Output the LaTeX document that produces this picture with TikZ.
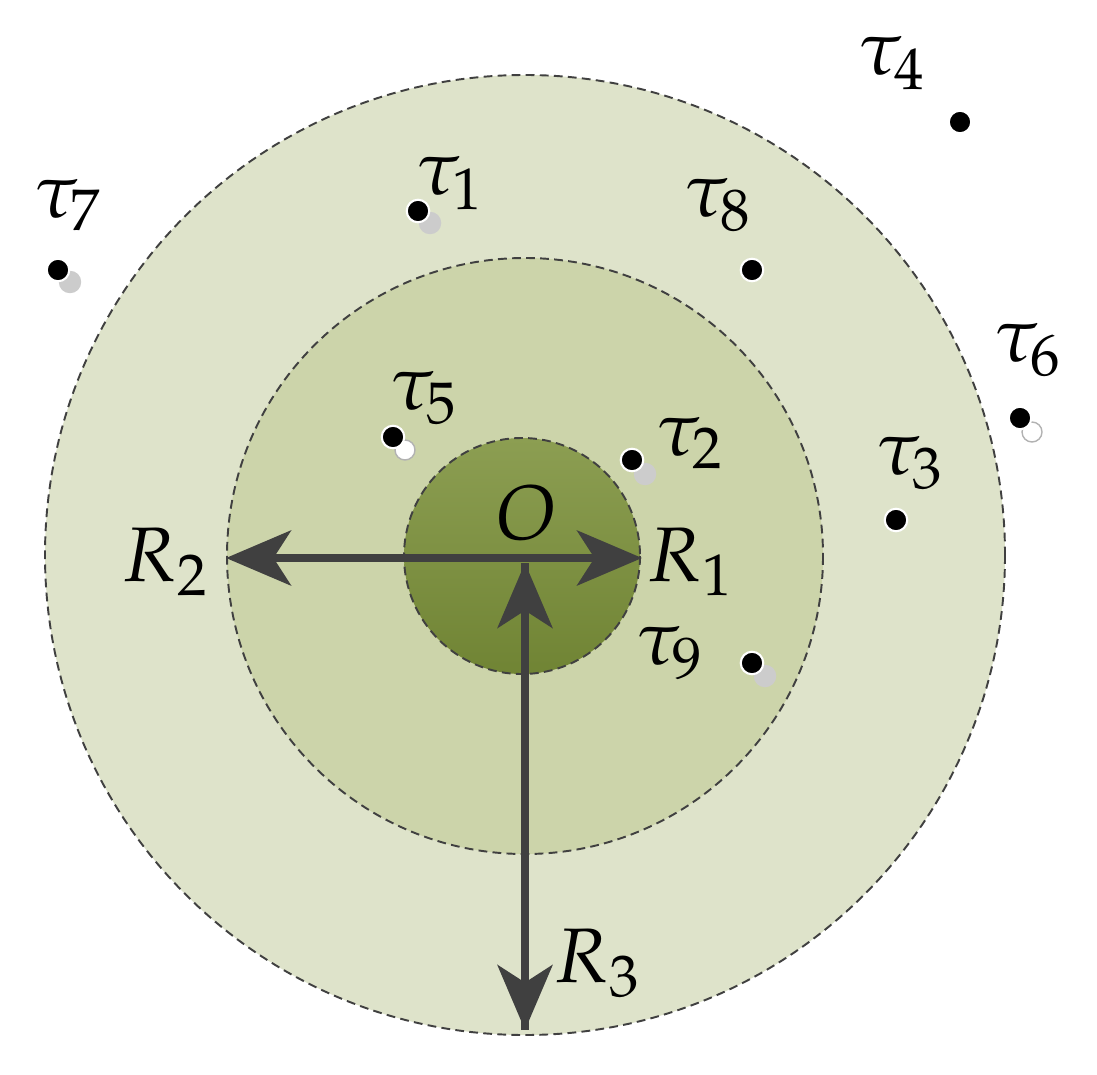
\documentclass[tikz,border=0pt]{standalone}
\usepackage{mathpazo}
\usetikzlibrary{arrows.meta}
\begin{document}
\begin{tikzpicture}[x=0.02cm,y=-0.02cm,
  ring/.style={draw=black!75,dash pattern=on 5pt off 3pt,line width=1.1pt},
  pt/.style={circle,fill=black,draw=white,line width=1.2pt,inner sep=0pt,minimum size=0.45cm},
  sh/.style={circle,fill=black!20,inner sep=0pt,minimum size=0.45cm},
  hsh/.style={circle,draw=black!30,fill=white,line width=0.8pt,inner sep=0pt,minimum size=0.4cm},
  lab/.style={inner sep=0pt,font=\fontsize{44}{50}\selectfont},
  arr/.style={line width=4pt,draw=black!75,-{Stealth[length=1.3cm,width=1.1cm,inset=0.35cm]}}]
\useasboundingbox (0,0) rectangle (1097,1074);
\fill[ring,fill={rgb,255:red,222;green,227;blue,202}] (525,555) circle (480);
\fill[ring,fill={rgb,255:red,204;green,212;blue,170}] (525,556) circle (298);
\shade[top color={rgb,255:red,140;green,158;blue,82},bottom color={rgb,255:red,112;green,132;blue,52}] (522,556) circle (118);
\draw[ring] (522,556) circle (118);
\coordinate (c) at (525,558);
\coordinate (r2) at (226,558);
\coordinate (r1) at (642,558);
\coordinate (cv) at (525,563);
\coordinate (r3) at (525,1030);
\draw[arr] (c) -- (r2);
\draw[arr] (c) -- (r1);
\draw[arr] (r3) -- (cv);
\draw[arr] (cv) -- (r3);
\node[lab] (O) at (527,513) {$O$};
\node[lab] (R2) at (165,562) {$R_2$};
\node[lab] (R1) at (690,562) {$R_1$};
\node[lab] (R3) at (597,963) {$R_3$};
\node[sh] (s1) at (430,223) {};
\node[sh] (s7) at (70,282) {};
\node[hsh] (s6) at (1032,432) {};
\node[hsh] (s5) at (405,450) {};
\node[sh] (s2) at (645,474) {};
\node[sh] (s9) at (765,676) {};
\node[pt] (p1) at (418,211) {};
\node[pt] (p7) at (58,270) {};
\node[pt] (p8) at (752,270) {};
\node[pt] (p4) at (960,122) {};
\node[pt] (p6) at (1020,418) {};
\node[pt] (p5) at (393,437) {};
\node[pt] (p2) at (632,460) {};
\node[pt] (p3) at (896,520) {};
\node[pt] (p9) at (752,663) {};
\node[lab] (t7) at (68,205) {$\tau_7$};
\node[lab] (t1) at (450,183) {$\tau_1$};
\node[lab] (t8) at (718,205) {$\tau_8$};
\node[lab] (t4) at (892,63) {$\tau_4$};
\node[lab] (t6) at (1028,350) {$\tau_6$};
\node[lab] (t5) at (424,398) {$\tau_5$};
\node[lab] (t2) at (690,443) {$\tau_2$};
\node[lab] (t3) at (910,463) {$\tau_3$};
\node[lab] (t9) at (670,653) {$\tau_9$};
\end{tikzpicture}
\end{document}
